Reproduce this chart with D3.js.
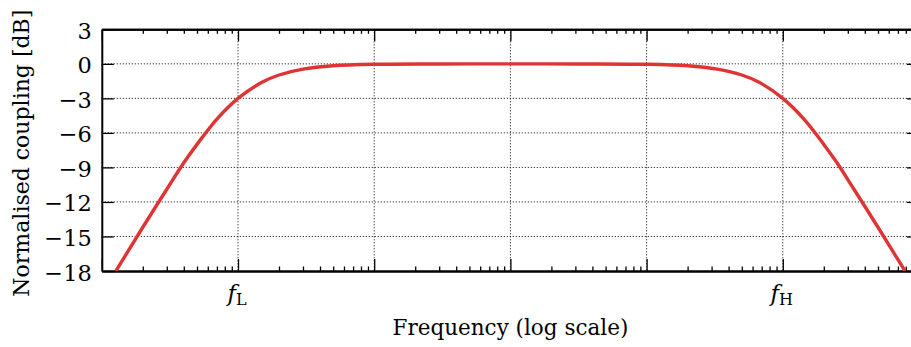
<!DOCTYPE html>
<html>
<head>
<meta charset="utf-8">
<script src="https://cdn.jsdelivr.net/npm/d3@7"></script>
<style>
  body { margin: 0; background: white; }
  text { font-family: "DejaVu Serif", serif; fill: black; }
</style>
</head>
<body>
<div id="container"></div>
<script>
let w = 911;
let h = 347;
let padL = 101.8, padR = 919, padT = 29.3, padB = 271;

// data (frequency in arbitrary units, fL = 10, fH = 1e5)
let freq = [1.27, 1.5, 2, 3, 4, 5, 7, 10, 15, 20, 30, 50, 100, 300, 1000, 3000, 10000, 20000, 33000, 50000, 67000, 100000, 143000, 200000, 250000, 333000, 500000, 667000, 790000];
let coupling = [-18, -16.6, -14.2, -10.9, -8.6, -7.0, -4.8, -3.0, -1.6, -0.97, -0.46, -0.17, -0.04, -0.01, 0, -0.01, -0.04, -0.17, -0.46, -0.97, -1.6, -3.0, -4.8, -7.0, -8.6, -10.9, -14.2, -16.6, -18];
let yTicks = [3, 0, -3, -6, -9, -12, -15, -18];
let decades = [1, 10, 100, 1000, 10000, 100000, 1000000];
let cutoffs = [{f: 10, sub: "L"}, {f: 100000, sub: "H"}];

let viz = d3.select("#container").append("svg")
  .attr("width", w)
  .attr("height", h);

let x = d3.scaleLog().domain([1, 1e6]).range([padL, padR]);
let y = d3.scaleLinear().domain([-18, 3]).range([padB, padT]);

let minors = [];
decades.slice(0, -1).forEach(function (d) {
  for (let k = 2; k < 10; k++) minors.push(d * k);
});

// grid
let grid = viz.append("g").attr("class", "grid")
  .attr("stroke", "black").attr("stroke-width", 1).attr("stroke-dasharray", "1,2");
grid.selectAll(".gy").data(yTicks.slice(1, -1)).enter().append("line")
  .attr("x1", padL).attr("x2", padR)
  .attr("y1", d => y(d)).attr("y2", d => y(d));
grid.selectAll(".gx").data(decades.slice(1, -1)).enter().append("line")
  .attr("y1", padT).attr("y2", padB)
  .attr("x1", d => x(d)).attr("x2", d => x(d));

// ticks (inward, all four sides)
function style(g) {
  g.select(".domain").attr("stroke-width", 2);
  g.selectAll(".tick line").attr("stroke-width", 1.3);
}
viz.append("g").attr("transform", "translate(0," + padB + ")")
  .call(d3.axisBottom(x).tickValues(minors).tickSize(-4.5).tickSizeOuter(0).tickFormat("")).call(style);
viz.append("g").attr("transform", "translate(0," + padB + ")")
  .call(d3.axisBottom(x).tickValues(decades).tickSize(-12).tickSizeOuter(0).tickFormat("")).call(style);
viz.append("g").attr("transform", "translate(0," + padT + ")")
  .call(d3.axisTop(x).tickValues(minors).tickSize(-4.5).tickSizeOuter(0).tickFormat("")).call(style);
viz.append("g").attr("transform", "translate(0," + padT + ")")
  .call(d3.axisTop(x).tickValues(decades).tickSize(-12).tickSizeOuter(0).tickFormat("")).call(style);

let yAxis = viz.append("g").attr("transform", "translate(" + padL + ",0)")
  .call(d3.axisLeft(y).tickValues(yTicks).tickSize(-12).tickSizeOuter(0).tickPadding(10).tickFormat(d3.format("d")))
  .call(style);
yAxis.selectAll("text")
  .style("font-family", "DejaVu Serif")
  .attr("font-size", 22.5).attr("dy", "0.4em");
viz.append("g").attr("transform", "translate(" + padR + ",0)")
  .call(d3.axisRight(y).tickValues(yTicks).tickSize(-12).tickSizeOuter(0).tickFormat(""))
  .call(style);

// cutoff labels
let cl = viz.selectAll(".cutoff").data(cutoffs).enter().append("text")
  .attr("class", "cutoff")
  .attr("x", d => x(d.f) - 1)
  .attr("y", 301)
  .attr("text-anchor", "middle")
  .attr("font-size", 23);
cl.append("tspan").attr("font-style", "italic").text("f");
cl.append("tspan").attr("font-size", 16).attr("dy", 4).text(d => d.sub);

// curve
viz.append("clipPath").attr("id", "plotclip").append("rect")
  .attr("x", padL).attr("y", padT).attr("width", padR - padL).attr("height", padB - padT);

let pts = freq.map((f, i) => [f, coupling[i]]);
let line = d3.line()
  .x(d => x(d[0]))
  .y(d => y(d[1]))
  .curve(d3.curveCatmullRom.alpha(0.5));

viz.append("path")
  .datum(pts)
  .attr("clip-path", "url(#plotclip)")
  .attr("d", line)
  .attr("fill", "none")
  .attr("stroke", "#e03434")
  .attr("stroke-width", 3.4);

// axis titles
viz.append("text")
  .attr("x", (padL + padR) / 2)
  .attr("y", 335)
  .attr("text-anchor", "middle")
  .attr("font-size", 21.5)
  .text("Frequency (log scale)");

viz.append("text")
  .attr("transform", "translate(29," + ((padT + padB) / 2 + 3) + ") rotate(-90)")
  .attr("text-anchor", "middle")
  .attr("font-size", 22)
  .text("Normalised coupling [dB]");
</script>
</body>
</html>
